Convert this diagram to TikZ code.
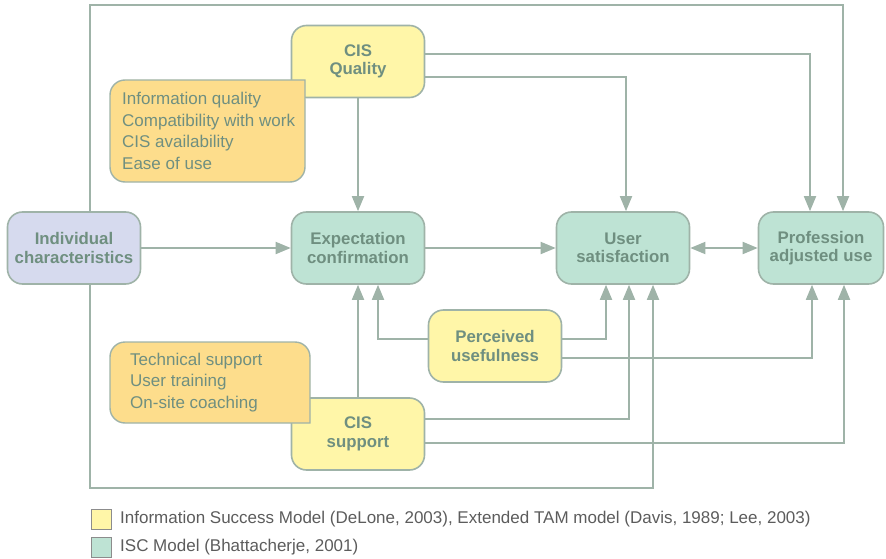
\documentclass[tikz,border=0pt]{standalone}
\usepackage{fontspec}
\setmainfont{Liberation Sans}
\usetikzlibrary{arrows.meta,positioning,calc}
\definecolor{linegray}{HTML}{9FB3A8}
\definecolor{nodetext}{HTML}{6F8F80}
\definecolor{cisyellow}{HTML}{FFF6A8}
\definecolor{itemorange}{HTML}{FDDD8C}
\definecolor{iscgreen}{HTML}{BEE3D4}
\definecolor{indivblue}{HTML}{D6DAEE}
\definecolor{legendtext}{HTML}{5C5C5C}
\tikzset{modelbox/.style={draw=linegray,line width=1.6pt,rounded corners=15pt,align=center,text=nodetext,font=\fontsize{16.8}{18.5}\selectfont\bfseries,minimum width=133pt,minimum height=72pt,inner sep=2pt},flowarr/.style={-{Triangle[length=15pt,width=12pt]},line width=1.8pt,draw=linegray},itemshape/.style={draw=linegray,line width=1.4pt,fill=itemorange},itemtext/.style={align=left,text=nodetext,font=\fontsize{17}{21.5}\selectfont,anchor=west,inner sep=0pt},legsq/.style={draw=gray!90,line width=1pt,minimum size=20pt,inner sep=0pt},legtext/.style={text=legendtext,font=\fontsize{17}{18}\selectfont,anchor=west,inner sep=0pt}}
\begin{document}
\begin{tikzpicture}[x=1pt,y=-1pt]
\useasboundingbox (0,0) rectangle (886,559);
\node[modelbox,fill=indivblue] (indiv) at (74,248) {Individual\\characteristics};
\node[modelbox,fill=iscgreen] (expect) at (358,248) {Expectation\\confirmation};
\node[modelbox,fill=cisyellow] (quality) at (358,61.5) {CIS\\Quality};
\node[modelbox,fill=iscgreen] (usersat) at (623,248) {User\\satisfaction};
\node[modelbox,fill=iscgreen,minimum width=125pt] (profuse) at (821,248) {Profession\\adjusted use};
\node[modelbox,fill=cisyellow] (useful) at (495,346) {Perceived\\usefulness};
\node[modelbox,fill=cisyellow] (support) at (358,434) {CIS\\support};
\coordinate (topline) at (0,5);
\coordinate (botline) at (0,488);
\draw[itemshape] (305,131) [rounded corners=15pt] -- (305,182) -- (110,182) -- (110,80) [sharp corners] -- (305,80) -- cycle;
\node[itemtext] (qualityitems) at (122,131) {Information quality\\Compatibility with work\\CIS availability\\Ease of use};
\draw[itemshape] (110,382) [rounded corners=15pt] -- (110,342) -- (310,342) [sharp corners] -- (310,423) [rounded corners=15pt] -- (110,423) -- cycle;
\node[itemtext] (supportitems) at (130,382.5) {Technical support\\User training\\On-site coaching};
\draw[flowarr] (quality) -- (expect);
\draw[flowarr] (support) -- (expect);
\draw[flowarr] (indiv) -- (expect);
\draw[flowarr] (expect) -- (usersat);
\draw[flowarr,{Triangle[length=15pt,width=12pt]}-{Triangle[length=15pt,width=12pt]}] (usersat) -- (profuse);
\draw[flowarr] ([yshift=7.5pt]quality.east) -| ([xshift=-11pt]profuse.north);
\draw[flowarr] ([yshift=-15.5pt]quality.east) -| ([xshift=3pt]usersat.north);
\draw[flowarr] ([xshift=16pt]indiv.north) -- ([xshift=16pt]indiv.north |- topline) -| ([xshift=22pt]profuse.north);
\draw[flowarr] ([xshift=16pt]indiv.south) -- ([xshift=16pt]indiv.south |- botline) -| ([xshift=30pt]usersat.south);
\draw[flowarr] ([yshift=7pt]useful.west) -| ([xshift=20pt]expect.south);
\draw[flowarr] ([yshift=7pt]useful.east) -| ([xshift=-17pt]usersat.south);
\draw[flowarr] ([yshift=-12pt]useful.east) -| ([xshift=-9pt]profuse.south);
\draw[flowarr] ([yshift=15pt]support.east) -| ([xshift=6pt]usersat.south);
\draw[flowarr] ([yshift=-9pt]support.east) -| ([xshift=23pt]profuse.south);
\node[legsq,fill=cisyellow] (legyellow) at (101,519.5) {};
\node[legsq,fill=iscgreen] (leggreen) at (101,547.5) {};
\node[legtext] (legyellowtext) at (120,519.5) {Information Success Model (DeLone, 2003), Extended TAM model (Davis, 1989; Lee, 2003)};
\node[legtext] (leggreentext) at (120,547.5) {ISC Model (Bhattacherje, 2001)};
\end{tikzpicture}
\end{document}
